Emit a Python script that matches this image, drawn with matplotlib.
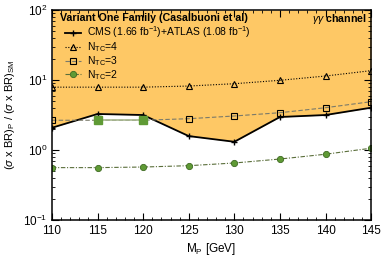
# Import libraries
import numpy as np
import matplotlib
matplotlib.use('Agg')
import matplotlib.pyplot as plt
from matplotlib.ticker import MultipleLocator, LogLocator, NullFormatter

plt.rcParams['font.family'] = ['Liberation Sans', 'DejaVu Sans']
plt.rcParams['mathtext.fontset'] = 'custom'
plt.rcParams['mathtext.rm'] = 'Liberation Sans'
plt.rcParams['mathtext.it'] = 'Liberation Sans:italic'

# Data
mass = [110, 115, 120, 125, 130, 135, 140, 145]
cms_limit = [2.08, 3.27, 3.16, 1.58, 1.31, 2.96, 3.16, 4.02]
ntc4 = [7.9, 7.9, 7.9, 8.2, 8.85, 9.9, 11.4, 13.6]
ntc3 = [2.66, 2.66, 2.66, 2.8, 3.06, 3.41, 4.02, 4.9]
ntc2 = [0.56, 0.56, 0.571, 0.597, 0.652, 0.743, 0.87, 1.06]
# Ntc=3 points that fall below the CMS limit (drawn green)
allowed3_mass = [115, 120]
allowed3 = [2.66, 2.66]

fig = plt.figure(figsize=(3.81, 2.59), dpi=100)
ax = fig.add_axes([0.1365, 0.1506, 0.8375, 0.8108])

# Excluded region above the limit
ax.fill_between(mass, cms_limit, 100, color='#FEC865', lw=0)

ax.plot(mass, cms_limit, color='black', lw=1.3, marker='+', ms=5, mew=1,
        label=r'CMS (1.66 fb$^{-1}$)+ATLAS (1.08 fb$^{-1}$)')
ax.plot(mass, ntc4, color='black', lw=0.8, ls=(0, (1, 1.5)), marker='^', ms=4,
        mfc='none', mec='black', mew=0.8, label=r'N$_{\rm TC}$=4')
ax.plot(mass, ntc3, color='#7a7a6a', lw=0.8, ls=(0, (4, 2)), marker='s', ms=5,
        mfc='none', mec='black', mew=0.8, label=r'N$_{\rm TC}$=3')
ax.plot(allowed3_mass, allowed3, color='#a8b890', lw=1.2, marker='s', ms=6,
        mfc='#5f9a35', mec='#5f9a35')
ax.plot(mass, ntc2, color='#5a6e3a', lw=0.8, ls=(0, (4, 1.5, 1, 1.5)), marker='o', ms=4.5,
        mfc='#5f9a35', mec='#3e6a22', mew=0.6, label=r'N$_{\rm TC}$=2')

ax.set_yscale('log')
ax.set_xlim(110, 145)
ax.set_ylim(0.1, 100)
ax.xaxis.set_major_locator(MultipleLocator(5))
ax.xaxis.set_minor_locator(MultipleLocator(1))
ax.yaxis.set_minor_locator(LogLocator(base=10, subs=np.arange(2, 10)))
ax.yaxis.set_minor_formatter(NullFormatter())
ax.tick_params(which='both', direction='in', top=True, right=True, labelsize=8.5)
ax.tick_params(which='major', length=5, width=0.8)
ax.tick_params(which='minor', length=2.5, width=0.6)
for s in ax.spines.values():
    s.set_linewidth(1.1)

ax.set_xlabel(r'M$_{\rm P}$ [GeV]', fontsize=8.5, labelpad=3)
ax.set_ylabel(r'($\sigma$ x BR)$_{\rm P}$ / ($\sigma$ x BR)$_{\rm SM}$', fontsize=8)

ax.text(0.025, 0.962, 'Variant One Family (Casalbuoni et al)', transform=ax.transAxes,
        fontsize=7.7, fontweight='bold', va='center', ha='left')
ax.text(0.987, 0.956, r'$\gamma\gamma$ channel', transform=ax.transAxes,
        fontsize=7.7, fontweight='bold', va='center', ha='right')

leg = ax.legend(loc='upper left', bbox_to_anchor=(0.04, 0.93), frameon=False,
                fontsize=7.5, handlelength=1.6, handletextpad=0.5,
                labelspacing=0.0, borderpad=0.0, borderaxespad=0.0)

plt.savefig('out.png', dpi=100)
